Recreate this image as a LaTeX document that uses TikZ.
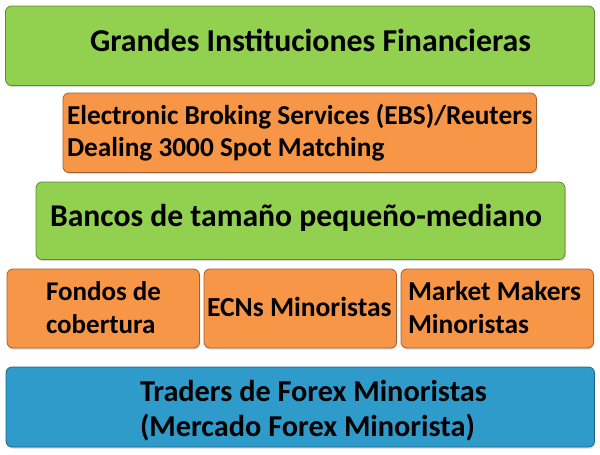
\documentclass[tikz,border=0pt]{standalone}
\usepackage{fontspec}
\setmainfont{Carlito}
\usetikzlibrary{shadows}
\definecolor{cgreen}{HTML}{92D050}
\definecolor{corange}{HTML}{F79646}
\definecolor{cblue}{HTML}{2E9BCB}
\newlength\tmpw
\newcommand\calcfs[3]{\settowidth\tmpw{\normalfont\fontsize{10pt}{12pt}\selectfont\bfseries #3}\pgfmathsetmacro#1{10*#2*0.75/\tmpw}}
\newcommand\fsel[1]{\fontsize{#1 pt}{#1 pt}\selectfont\bfseries}
\AtBeginDocument{%
  \calcfs{\fsA}{441}{Grandes Instituciones Financieras}%
  \calcfs{\fsB}{465.5}{Electronic Broking Services (EBS)/Reuters}%
  \calcfs{\fsC}{492}{Bancos de tamaño pequeño-mediano}%
  \calcfs{\fsD}{115}{Fondos de}%
  \calcfs{\fsE}{184.6}{ECNs Minoristas}%
  \calcfs{\fsF}{173}{Market Makers}%
  \calcfs{\fsG}{347}{Traders de Forex Minoristas}%
}
\tikzset{
  box/.style={draw=#1!65!black, fill=#1, line width=0.6pt, rounded corners=4.5pt,
    drop shadow={shadow xshift=0.6pt, shadow yshift=-1.2pt, opacity=0.3}},
  txt/.style={anchor=base west, inner sep=0pt, outer sep=0pt, text=black, font=\fsel{#1}}
}
\begin{document}
\begin{tikzpicture}[x=0.75pt, y=-0.75pt]
\useasboundingbox (0,0) rectangle (600,454);
% boxes
\path[box=cgreen]  (5.5,6) rectangle (594.5,85.5) node[pos=0.5] (b1) {};
\path[box=corange] (63,93) rectangle (536.5,172.5) node[pos=0.5] (b2) {};
\path[box=cgreen]  (36,182) rectangle (565,259.5) node[pos=0.5] (b3) {};
\path[box=corange] (7,269) rectangle (199.5,348) node[pos=0.5] (b4a) {};
\path[box=corange] (204,269) rectangle (396.5,348) node[pos=0.5] (b4b) {};
\path[box=corange] (401,269) rectangle (593.5,348) node[pos=0.5] (b4c) {};
\path[box=cblue]   (6,367) rectangle (594.5,447) node[pos=0.5] (b5) {};
% texts
\node[txt=\fsA] (t1) at (90,51.7) {Grandes Instituciones Financieras};
\node[txt=\fsB] (t2a) at (67,124) {Electronic Broking Services (EBS)/Reuters};
\node[txt=\fsB] (t2b) at (67,156.7) {Dealing 3000 Spot Matching};
\node[txt=\fsC] (t3) at (50,226.7) {Bancos de tamaño pequeño-mediano};
\node[txt=\fsD] (t4a1) at (46,300.7) {Fondos de};
\node[txt=\fsD] (t4a2) at (46,333.3) {cobertura};
\node[txt=\fsE] (t4b) at (207,316) {ECNs Minoristas};
\node[txt=\fsF] (t4c1) at (408,300.7) {Market Makers};
\node[txt=\fsF] (t4c2) at (408,333.3) {Minoristas};
\node[txt=\fsG] (t5a) at (140,401.7) {Traders de Forex Minoristas};
\node[txt=\fsG] (t5b) at (140,436.7) {(Mercado Forex Minorista)};
\end{tikzpicture}
\end{document}
